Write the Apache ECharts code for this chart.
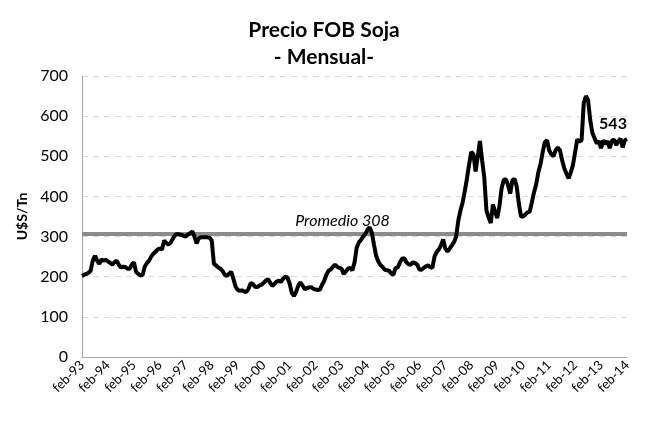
<!DOCTYPE html>
<html>
<head>
<meta charset="utf-8">
<script src="https://cdn.jsdelivr.net/npm/echarts@6/dist/echarts.min.js"></script>
<style>
  html, body { margin: 0; padding: 0; background: #fff; }
  #chart { width: 648px; height: 421px; }
</style>
</head>
<body>
<div id="chart"></div>
<script>
// meses y años del eje (feb-93 a feb-14)
var meses = ['ene', 'feb', 'mar', 'abr', 'may', 'jun', 'jul', 'ago', 'sep', 'oct', 'nov', 'dic'];
var anioInicio = 1993;
var mesInicio = 1; // feb

// precio FOB soja, U$S/Tn, mensual desde feb-93
var precio = [
    202, 205, 207, 210, 215, 240, 252, 240, 232, 243, 240, 242,
    238, 235, 230, 236, 240, 230, 223, 225, 224, 220, 220, 230,
    236, 212, 207, 203, 204, 225, 234, 240, 250, 257, 262, 268,
    270, 268, 290, 284, 280, 285, 295, 303, 307, 305, 304, 302,
    300, 305, 308, 313, 300, 283, 296, 298, 298, 298, 298, 297,
    290, 232, 228, 223, 220, 214, 205, 202, 208, 212, 195, 175,
    167, 165, 166, 163, 162, 170, 184, 182, 175, 174, 178, 180,
    185, 190, 194, 185, 177, 182, 188, 190, 187, 195, 200, 198,
    183, 160, 152, 162, 178, 186, 178, 169, 172, 173, 174, 170,
    168, 167, 168, 180, 190, 205, 215, 218, 225, 230, 225, 222,
    220, 207, 213, 220, 222, 216, 235, 272, 285, 292, 300, 306,
    317, 323, 310, 280, 252, 238, 229, 224, 217, 216, 215, 208,
    205, 222, 223, 235, 245, 246, 236, 231, 230, 236, 234, 230,
    218, 217, 222, 226, 228, 224, 222, 250, 262, 268, 278, 293,
    270, 263, 270, 278, 286, 300, 340, 365, 385, 413, 445, 480,
    511, 505, 462, 500, 538, 490, 448, 365, 348, 334, 380, 362,
    346, 375, 420, 441, 443, 428, 407, 440, 444, 425, 382, 350,
    350, 355, 360, 362, 385, 410, 430, 460, 480, 510, 535, 540,
    515, 505, 500, 515, 522, 515, 490, 470, 457, 445, 460, 478,
    510, 542, 537, 540, 632, 650, 640, 590, 558, 545, 532, 538,
    520, 540, 530, 538, 520, 538, 542, 528, 538, 544, 522, 540,
    543
];
var promedio = 308;
var yTicks = [0, 100, 200, 300, 400, 500, 600, 700];

var categorias = [];
for (var i = 0; i < precio.length; i++) {
    var m = (mesInicio + i) % 12;
    var a = anioInicio + Math.floor((mesInicio + i) / 12);
    categorias.push(meses[m] + '-' + String(a).slice(2));
}

var ultimo = precio.length - 1;

var myChart = echarts.init(document.getElementById('chart'), null, { renderer: 'canvas' });

var option = {
    animation: false,
    textStyle: { fontFamily: 'Lato' },
    title: {
        text: 'Precio FOB Soja\n- Mensual-',
        left: 'center',
        top: 12,
        textStyle: { fontSize: 21, fontWeight: 'bold', color: '#000', lineHeight: 27, fontFamily: 'Lato' }
    },
    grid: { left: 82, right: 21, top: 76, bottom: 64 },
    xAxis: {
        type: 'category',
        data: categorias,
        boundaryGap: false,
        axisLine: { lineStyle: { color: '#a6a6a6', width: 1 } },
        axisTick: { show: false },
        axisLabel: {
            interval: 11, rotate: 45, fontSize: 13, color: '#000', margin: 6,
            fontFamily: 'Lato'
        },
        splitLine: { show: false }
    },
    yAxis: {
        type: 'value',
        min: yTicks[0],
        max: yTicks[yTicks.length - 1],
        interval: 100,
        name: 'U$S/Tn',
        nameLocation: 'middle',
        nameRotate: 90,
        nameGap: 46,
        nameTextStyle: { fontSize: 14, fontWeight: 'bold', color: '#000', fontFamily: 'Lato' },
        axisLine: { show: true, lineStyle: { color: '#a6a6a6', width: 1 } },
        axisTick: { show: false },
        axisLabel: { fontSize: 16, color: '#000', margin: 14, fontFamily: 'Lato' },
        splitLine: { lineStyle: { color: '#d9d9d9', type: [6, 5], width: 1 } }
    },
    series: [{
        name: 'Precio',
        type: 'line',
        data: precio,
        showSymbol: false,
        symbol: 'none',
        lineStyle: { color: '#000', width: 4 },
        z: 3,
        markPoint: {
            silent: true,
            symbol: 'circle',
            symbolSize: 0,
            data: [{ coord: [ultimo, precio[ultimo]], value: precio[ultimo] }],
            label: {
                show: true,
                position: 'top',
                offset: [-14, -2],
                fontWeight: 'bold', fontSize: 16, color: '#000',
                fontFamily: 'Lato'
            }
        },
        markLine: {
            silent: true,
            symbol: ['none', 'none'],
            data: [{ yAxis: promedio }],
            lineStyle: { color: '#8c8c8c', width: 4, type: 'solid' },
            label: {
                show: true,
                position: 'insideMiddleTop',
                formatter: 'Promedio ' + promedio,
                fontStyle: 'italic',
                fontSize: 16,
                color: '#000',
                fontFamily: 'Lato',
                offset: [-12, 0]
            },
            z: 2
        }
    }]
};

myChart.setOption(option);
</script>
</body>
</html>
